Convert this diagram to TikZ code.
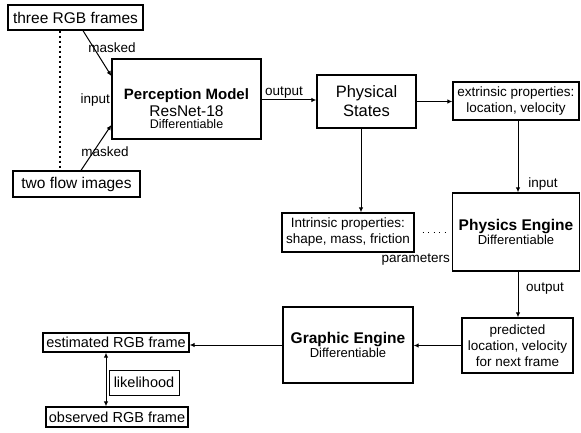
\documentclass[tikz,border=0pt]{standalone}
\usepackage{fontspec}
\setmainfont{Liberation Sans}
\usetikzlibrary{arrows.meta,calc}
\begin{document}
\begin{tikzpicture}[x=1pt,y=-1pt,
  box/.style={draw,line width=1.3pt,inner sep=0pt,align=center},
  arr/.style={line width=1pt,-{Latex[length=5pt,width=4.5pt]}},
  lbl/.style={font=\fontsize{13.5}{15}\selectfont,inner sep=0pt},
  bigt/.style={font=\fontsize{15.5}{17}\selectfont},
  smt/.style={font=\fontsize{13.5}{16}\selectfont}]
\useasboundingbox (0,0) rectangle (581,433);
% nodes
\node[box,minimum width=135,minimum height=25,bigt] (rgb) at (75.5,17.5) {three RGB frames};
\node[box,minimum width=127,minimum height=26,bigt] (flow) at (76.5,184) {two flow images};
\node[box,minimum width=149,minimum height=80] (perc) at (186.5,99) {};
\node[align=center,inner sep=0pt] (perct) at (186.5,109)
  {{\fontsize{15}{18}\selectfont\bfseries Perception Model}\\[2pt]
   {\fontsize{15.5}{18}\selectfont ResNet-18}\\
   {\fontsize{12.5}{16}\selectfont Differentiable}};
\node[box,minimum width=99,minimum height=53,font=\fontsize{16.5}{19}\selectfont] (phys) at (366.5,101.5) {Physical\\States};
\node[box,minimum width=126,minimum height=38,smt] (ext) at (516,101) {extrinsic properties:\\location, velocity};
\node[box,minimum width=132,minimum height=39,smt] (intr) at (348,232.5) {Intrinsic properties:\\shape, mass, friction};
\node[box,minimum width=127,minimum height=78] (peng) at (516,232)
  {{\fontsize{15.5}{19}\selectfont\bfseries Physics Engine}\\
   {\fontsize{13}{16}\selectfont Differentiable}};
\node[box,minimum width=111,minimum height=55,smt] (pred) at (517.5,345.5) {predicted\\location, velocity\\for next frame};
\node[box,minimum width=130,minimum height=76] (geng) at (348,345)
  {{\fontsize{15.5}{19}\selectfont\bfseries Graphic Engine}\\
   {\fontsize{13}{16}\selectfont Differentiable}};
\node[box,minimum width=146,minimum height=19,font=\fontsize{14.5}{16}\selectfont] (est) at (116,342.5) {estimated RGB frame};
\node[box,minimum width=142,minimum height=20,font=\fontsize{14.5}{16}\selectfont] (obs) at (117,417) {observed RGB frame};
\node[box,line width=1pt,minimum width=70,minimum height=25,font=\fontsize{14.5}{16}\selectfont] (lik) at (144,382.5) {likelihood};
% connectors
\draw[line width=2pt,dash pattern=on 2pt off 3pt] ([xshift=-15.5]rgb.south) -- ([xshift=-16.5]flow.north);
\draw[arr] ([xshift=7.5]rgb.south) -- ([yshift=23]perc.west);
\draw[arr] ([xshift=4.5]flow.north) -- ([yshift=-26]perc.west);
\draw[arr] ([yshift=-1]perc.east) -- ([yshift=-1]perc.east -| phys.west);
\draw[arr] (phys.east) -- (phys.east -| ext.west);
\draw[arr] ([xshift=2]ext.south) -- ([xshift=2]ext.south |- peng.north);
\draw[arr] ([xshift=-5.5]phys.south) -- ([xshift=-5.5]phys.south |- intr.north);
\draw[line width=1.2pt,dash pattern=on 1pt off 4.5pt] ([xshift=8]intr.east) -- ([xshift=-5]peng.west |- intr.east);
\draw[arr] ([xshift=2]peng.south) -- ([xshift=2]peng.south |- pred.north);
\draw[arr] (pred.west) -- (pred.west -| geng.east);
\draw[arr] (geng.west) -- (geng.west -| est.east);
\draw[line width=1pt,{Latex[length=5pt,width=4.5pt]}-{Latex[length=5pt,width=4.5pt]}] ([xshift=-10]est.south) -- ([xshift=-10]est.south |- obs.north);
% labels
\node[lbl] (m1) at (112,48) {masked};
\node[lbl] (m2) at (105,152) {masked};
\node[lbl,anchor=east] (in1) at (110,100) {input};
\node[lbl] (out1) at (284,93) {output};
\node[lbl] (in2) at (543,184) {input};
\node[lbl] (out2) at (545,289) {output};
\node[lbl,anchor=east] (par) at (450,260) {parameters};
\end{tikzpicture}
\end{document}
